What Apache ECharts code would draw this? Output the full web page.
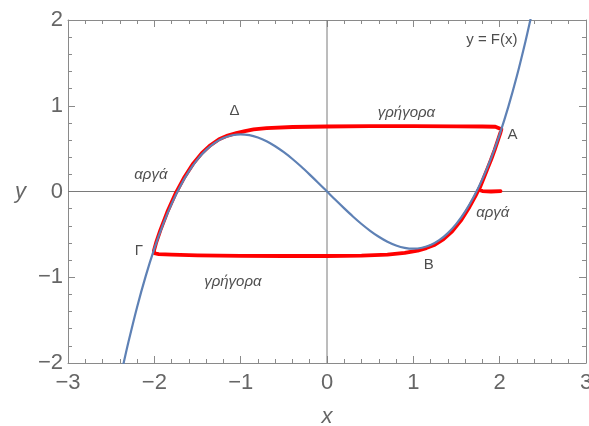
<!DOCTYPE html>
<html>
<head>
<meta charset="utf-8">
<script src="https://cdn.jsdelivr.net/npm/echarts@6/dist/echarts.min.js"></script>
<style>
html, body { margin: 0; padding: 0; background: #fff; }
#chart { width: 589px; height: 426px; }
</style>
</head>
<body>
<div id="chart"></div>
<script>
// Cubic characteristic y = F(x), sampled points
const curveX = [-2.36, -2.3, -2.2, -2.1, -2.0, -1.9, -1.8, -1.7, -1.6, -1.5, -1.4, -1.3, -1.2, -1.1, -1.0,
  -0.9, -0.8, -0.7, -0.6, -0.5, -0.4, -0.3, -0.2, -0.1, 0,
  0.1, 0.2, 0.3, 0.4, 0.5, 0.6, 0.7, 0.8, 0.9, 1.0, 1.1, 1.2, 1.3, 1.4, 1.5, 1.6, 1.7, 1.8, 1.9, 2.0,
  2.1, 2.2, 2.3, 2.36];
const curveY = [-2.021, -1.756, -1.349, -0.987, -0.667, -0.386, -0.144, 0.062, 0.235, 0.375, 0.485, 0.568, 0.624, 0.656, 0.667,
  0.657, 0.629, 0.586, 0.528, 0.458, 0.379, 0.291, 0.197, 0.100, 0,
  -0.100, -0.197, -0.291, -0.379, -0.458, -0.528, -0.586, -0.629, -0.657, -0.667, -0.656, -0.624, -0.568, -0.485, -0.375, -0.235, -0.062, 0.144, 0.386, 0.667,
  0.987, 1.349, 1.756, 2.021];

// Relaxation trajectory (start near (2, 0), then around the cycle)
const trajX = [2.01, 1.9, 1.8, 1.76,
  1.78, 1.82, 1.86, 1.9, 1.94, 1.98, 2.01, 2.02,
  2.01, 1.95, 1.8, 1.5, 1.0, 0.5, 0, -0.4, -0.7, -0.85, -0.95, -1.05, -1.15,
  -1.25, -1.35, -1.45, -1.55, -1.65, -1.75, -1.85, -1.93, -1.98, -2.005, -2.0,
  -1.95, -1.8, -1.5, -1.0, -0.5, 0, 0.4, 0.7, 0.9, 1.05, 1.15, 1.25,
  1.35, 1.45, 1.55, 1.65, 1.72, 1.78, 1.82, 1.86, 1.9, 1.94, 1.98, 2.01, 2.02];
const trajY = [0.005, 0.0, 0.005, 0.02,
  0.07, 0.17, 0.27, 0.37, 0.48, 0.60, 0.69, 0.725,
  0.748, 0.755, 0.758, 0.76, 0.762, 0.762, 0.758, 0.752, 0.74, 0.725, 0.705, 0.68, 0.652,
  0.61, 0.54, 0.448, 0.325, 0.17, -0.015, -0.24, -0.45, -0.6, -0.69, -0.72,
  -0.73, -0.737, -0.745, -0.75, -0.752, -0.752, -0.748, -0.735, -0.715, -0.69, -0.66, -0.62,
  -0.555, -0.465, -0.34, -0.18, -0.05, 0.07, 0.17, 0.27, 0.37, 0.48, 0.60, 0.69, 0.725];

// Tick labels
const xTicks = [-3, -2, -1, 0, 1, 2, 3];
const xTickLabels = ['\u22123', '\u22122', '\u22121', '0', '1', '2', '3'];
const yTicks = [-2, -1, 0, 1, 2];
const yTickLabels = ['\u22122', '\u22121', '0', '1', '2'];

// Annotations
const noteText = ['y = F(x)', '\u0394', '\u03b3\u03c1\u03ae\u03b3\u03bf\u03c1\u03b1', 'A', '\u03b1\u03c1\u03b3\u03ac',
  '\u03b1\u03c1\u03b3\u03ac', '\u0393', '\u03b3\u03c1\u03ae\u03b3\u03bf\u03c1\u03b1', 'B'];
const noteX = [1.91, -1.07, 0.92, 2.15, -2.04, 1.92, -2.18, -1.09, 1.18];
const noteY = [1.77, 0.94, 0.92, 0.66, 0.19, -0.25, -0.69, -1.05, -0.85];
const noteItalic = [false, false, true, false, true, true, false, true, false];

const frameColor = '#8a8a8a';
const tickColor = '#666666';
const fontFamily = '"Liberation Sans", Arial, sans-serif';

function tickText(ticks, texts) {
  return function (v) {
    const i = ticks.findIndex(t => Math.abs(t - v) < 1e-9);
    return i >= 0 ? texts[i] : '';
  };
}

function axisBase(extra) {
  return Object.assign({
    type: 'value',
    interval: 1,
    axisLine: { show: true, onZero: false, lineStyle: { color: frameColor, width: 1 } },
    axisTick: { show: true, inside: true, length: 7, lineStyle: { color: frameColor } },
    minorTick: { show: true, splitNumber: 5, length: 4, lineStyle: { color: frameColor } },
    splitLine: { show: false },
    minorSplitLine: { show: false }
  }, extra);
}

const chart = echarts.init(document.getElementById('chart'), null, { renderer: 'canvas' });

const pairs = (xs, ys) => xs.map((x, i) => [x, ys[i]]);

chart.setOption({
  animation: false,
  backgroundColor: '#ffffff',
  grid: { left: 68, right: 3, top: 20, bottom: 63, containLabel: false, outerBoundsMode: 'none' },
  xAxis: [
    axisBase({
      min: -3, max: 3, position: 'bottom',
      axisLabel: { fontSize: 22, color: tickColor, fontFamily: fontFamily, margin: 9,
        formatter: tickText(xTicks, xTickLabels) },
      name: 'x', nameLocation: 'middle', nameGap: 43,
      nameTextStyle: { fontSize: 22, fontStyle: 'italic', color: tickColor, fontFamily: fontFamily }
    }),
    axisBase({ min: -3, max: 3, position: 'top', axisLabel: { show: false } })
  ],
  yAxis: [
    axisBase({
      min: -2, max: 2, position: 'left',
      axisLabel: { fontSize: 22, color: tickColor, fontFamily: fontFamily, margin: 5,
        formatter: tickText(yTicks, yTickLabels) },
      name: 'y', nameLocation: 'middle', nameGap: 42, nameRotate: 0,
      nameTextStyle: { fontSize: 22, fontStyle: 'italic', color: tickColor, fontFamily: fontFamily }
    }),
    axisBase({ min: -2, max: 2, position: 'right', axisLabel: { show: false } })
  ],
  series: [
    {
      // coordinate axes through the origin
      type: 'line', xAxisIndex: 0, yAxisIndex: 0,
      data: [[-3, 0], [3, 0]], showSymbol: false, silent: true,
      lineStyle: { color: '#7a7a7a', width: 1 }, z: 1
    },
    {
      type: 'line', xAxisIndex: 0, yAxisIndex: 0,
      data: [[0, -2], [0, 2]], showSymbol: false, silent: true,
      lineStyle: { color: '#7a7a7a', width: 1 }, z: 1
    },
    {
      name: 'trajectory', type: 'line', xAxisIndex: 0, yAxisIndex: 0,
      data: pairs(trajX, trajY), showSymbol: false, smooth: false,
      lineStyle: { color: '#ff0000', width: 3.8, join: 'round', cap: 'round' }, z: 2
    },
    {
      name: 'F', type: 'line', xAxisIndex: 0, yAxisIndex: 0,
      data: pairs(curveX, curveY), showSymbol: false, smooth: 0.3, clip: true,
      lineStyle: { color: '#5e81b5', width: 2.2 }, z: 3
    },
    {
      name: 'notes', type: 'scatter', xAxisIndex: 0, yAxisIndex: 0,
      symbolSize: 0, silent: true, z: 4,
      data: noteText.map((t, i) => ({
        name: t, value: [noteX[i], noteY[i]],
        label: { fontStyle: noteItalic[i] ? 'italic' : 'normal' }
      })),
      label: {
        show: true, position: 'inside', formatter: p => p.name,
        fontSize: 15, color: '#222222', fontFamily: fontFamily
      }
    }
  ]
});
</script>
</body>
</html>
